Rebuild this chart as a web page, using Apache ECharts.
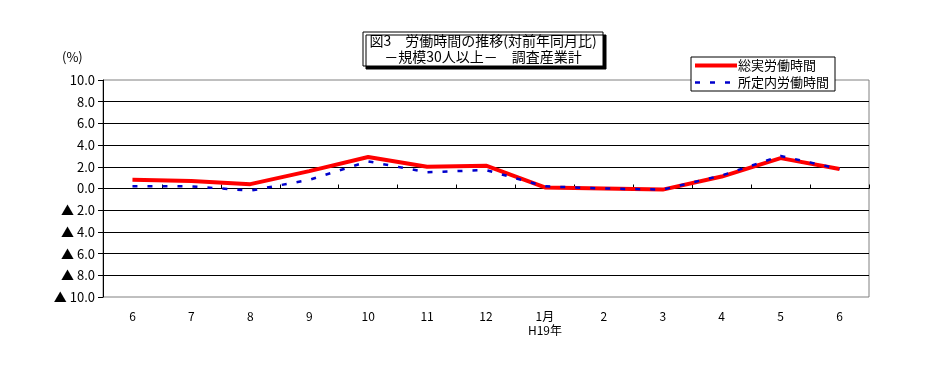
<!DOCTYPE html>
<html>
<head>
<meta charset="utf-8">
<script src="https://cdn.jsdelivr.net/npm/echarts@6/dist/echarts.min.js"></script>
<style>html,body{margin:0;padding:0;background:#fff}#c{width:936px;height:386px}</style>
</head>
<body>
<div id="c"></div>
<script>
var categories = ['6','7','8','9','10','11','12','1月\nH19年','2','3','4','5','6'];
var totalHours = [0.8, 0.7, 0.4, 1.6, 2.9, 2.0, 2.1, 0.1, 0.0, -0.1, 1.1, 2.8, 1.8];
var scheduledHours = [0.2, 0.2, -0.2, 0.8, 2.5, 1.5, 1.7, 0.2, 0.0, -0.1, 1.2, 3.0, 1.8];
var seriesNames = ['総実労働時間', '所定内労働時間'];
var titleLines = ['図3　労働時間の推移(対前年同月比)', '－規模30人以上－　調査産業計'];

var FONT = '"Noto Sans CJK JP", "Noto Sans", sans-serif';
var chart = echarts.init(document.getElementById('c'), null, {renderer: 'canvas'});
chart.setOption({
  animation: false,
  backgroundColor: '#fff',
  textStyle: {fontFamily: FONT, color: '#000'},
  grid: {left: 103, right: 67, top: 80, bottom: 89, show: true, borderColor: '#808080', borderWidth: 1, backgroundColor: 'transparent'},
  graphic: [
    {type: 'rect', x: 363, y: 32, shape: {width: 240, height: 34}, style: {fill: '#fff', stroke: '#000', lineWidth: 1, shadowColor: '#000', shadowOffsetX: 3, shadowOffsetY: 3, shadowBlur: 0}, z: 10},
    {type: 'text', x: 483, y: 33, style: {text: titleLines.join('\n'), font: '14px ' + FONT, fill: '#000', align: 'center', verticalAlign: 'top', lineHeight: 16}, z: 11},
    {type: 'text', x: 62, y: 51, style: {text: '(%)', font: '13px ' + FONT, fill: '#000'}, z: 11}
  ],
  legend: {
    orient: 'vertical', left: 691, top: 57,
    backgroundColor: '#fff', borderColor: '#000', borderWidth: 1,
    padding: [2, 6, 2, 2], itemGap: 4, itemWidth: 42, itemHeight: 16,
    itemStyle: {opacity: 0},
    textStyle: {fontSize: 13, fontFamily: FONT, color: '#000', padding: [0,0,0,-4]},
    data: [
      {name: seriesNames[0], lineStyle: {width: 4}},
      {name: seriesNames[1], lineStyle: {width: 2.5}}
    ], z: 20
  },
  xAxis: [
    {type: 'category', data: categories, boundaryGap: true, position: 'bottom',
     axisLine: {show: false, onZero: false}, axisTick: {show: false},
     axisLabel: {fontSize: 12, color: '#000', margin: 12, lineHeight: 14, interval: 0}},
    {type: 'category', data: categories, boundaryGap: true, position: 'bottom',
     axisLine: {show: true, onZero: true, lineStyle: {color: '#000', width: 1}},
     axisTick: {show: true, inside: true, length: 4, lineStyle: {color: '#000'}},
     axisLabel: {show: false}}
  ],
  yAxis: {
    type: 'value', min: -10, max: 10, interval: 2,
    axisLine: {show: true, lineStyle: {color: '#000'}},
    axisTick: {show: true, length: 5, lineStyle: {color: '#000'}},
    splitLine: {show: true, showMinLine: false, showMaxLine: false, lineStyle: {color: '#000', width: 1}},
    axisLabel: {fontSize: 13, color: '#000', margin: 8,
      formatter: function (v) { return v < 0 ? '▲ ' + Math.abs(v).toFixed(1) : v.toFixed(1); }}
  },
  series: [
    {name: seriesNames[0], type: 'line', data: totalHours, xAxisIndex: 0, symbol: 'none',
     lineStyle: {color: '#ff0000', width: 4}, itemStyle: {color: '#ff0000'}, z: 3},
    {name: seriesNames[1], type: 'line', data: scheduledHours, xAxisIndex: 0, symbol: 'none',
     lineStyle: {color: '#0000cc', width: 2.5, type: [5, 10]}, itemStyle: {color: '#0000cc'}, z: 4}
  ]
});
</script>
</body>
</html>
